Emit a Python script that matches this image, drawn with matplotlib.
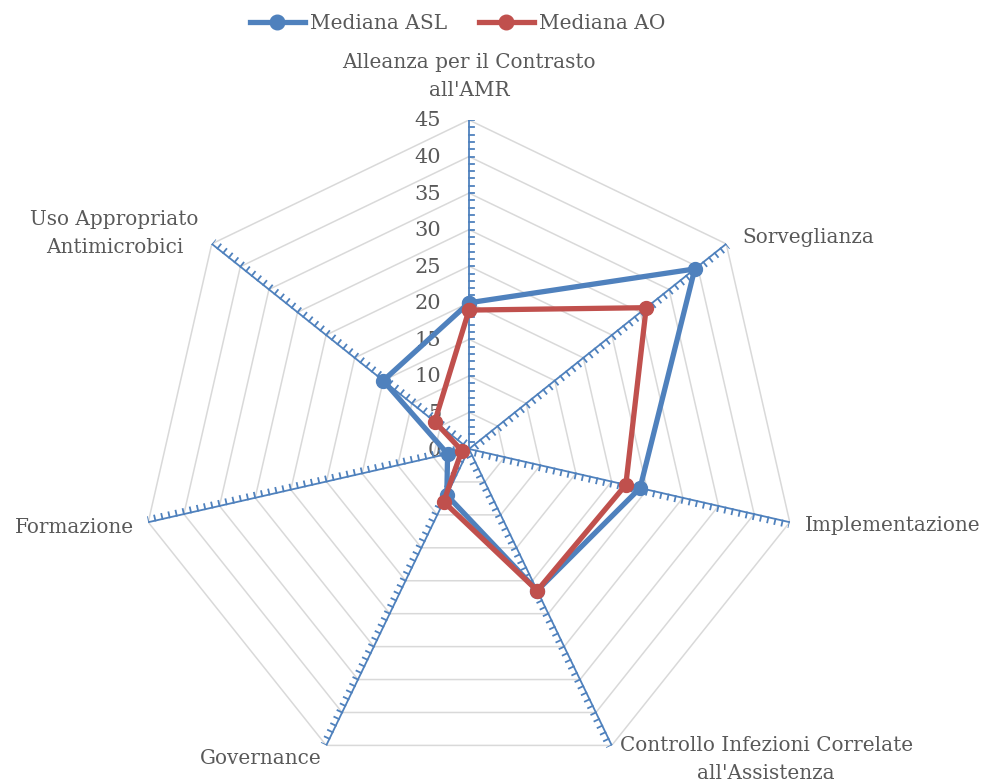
import numpy as np
import matplotlib.pyplot as plt
from matplotlib.lines import Line2D
from matplotlib.transforms import offset_copy

categories = ["Alleanza per il Contrasto\nall'AMR", "Sorveglianza", "Implementazione",
              "Controllo Infezioni Correlate\nall'Assistenza", "Governance", "Formazione",
              "Uso Appropriato\nAntimicrobici"]
mediana_asl = [20, 39.5, 24, 21.5, 7, 3, 15]
mediana_ao = [19, 31, 22, 21.5, 8, 1, 6]
r_ticks = [0, 5, 10, 15, 20, 25, 30, 35, 40, 45]
r_max = 45

BLUE = '#4F81BD'
RED = '#C0504D'
GRID = '#D9D9D9'
TEXT = '#595959'

plt.rcParams['font.family'] = ['DejaVu Serif']

fig = plt.figure(figsize=(9.85, 7.82), dpi=100)
ax = fig.add_axes([469 / 985 - 329 / 985, (782 - 449 - 329) / 782, 658 / 985, 658 / 782],
                  projection='polar')
ax.set_theta_zero_location('N')
ax.set_theta_direction(-1)
ax.set_ylim(0, r_max)
ax.grid(False)
ax.spines['polar'].set_visible(False)
ax.set_xticks([])
ax.set_yticks([])

n = len(categories)
theta = np.arange(n) * 2 * np.pi / n
theta_closed = np.append(theta, theta[0])

# heptagon grid
for r in r_ticks[1:]:
    ax.plot(theta_closed, [r] * (n + 1), color=GRID, lw=1.1, zorder=1)

# spokes with minor ticks on the clockwise side
tick_len = 0.7
for t in theta:
    ax.plot([t, t], [0, r_max], color=BLUE, lw=1.3, zorder=2)
    for r in range(1, r_max + 1):
        x0, y0 = r * np.sin(t), r * np.cos(t)
        x1, y1 = x0 + tick_len * np.cos(t), y0 - tick_len * np.sin(t)
        ax.plot([t, np.arctan2(x1, y1)], [r, np.hypot(x1, y1)], color=BLUE, lw=1.3, zorder=2)

# radial value labels
lab_tr = offset_copy(ax.transData, fig=fig, x=-28, y=-1, units='dots')
for r in r_ticks:
    ax.text(0, r, str(r), transform=lab_tr, ha='right', va='center',
            fontsize=15, color=TEXT, zorder=1)

# series
ax.plot(theta_closed, mediana_asl + mediana_asl[:1], color=BLUE, lw=3.8,
        marker='o', markersize=10, zorder=4, clip_on=False)
ax.plot(theta_closed, mediana_ao + mediana_ao[:1], color=RED, lw=3.8,
        marker='o', markersize=10, zorder=5, clip_on=False)

# category labels
label_pos = [(0, 44, 'center'), (16, 6, 'left'), (15, -3, 'left'), (8, -14, 'left'),
             (-5, -13, 'right'), (-14, -5, 'right'), (-13, 10, 'right')]
for t, name, (dx, dy, ha) in zip(theta, categories, label_pos):
    tr = offset_copy(ax.transData, fig=fig, x=dx, y=dy, units='dots')
    ax.text(t, r_max, name, transform=tr, ha=ha, va='center', multialignment='center',
            fontsize=14.4, color=TEXT, linespacing=1.6)

handles = [Line2D([], [], color=BLUE, lw=3.8, marker='o', markersize=10.5),
           Line2D([], [], color=RED, lw=3.8, marker='o', markersize=10.5)]
fig.legend(handles, ['Mediana ASL', 'Mediana AO'], loc='upper center',
           bbox_to_anchor=(0.4645, 1.005), ncol=2, frameon=False, fontsize=14.5,
           labelcolor=TEXT, handlelength=2.75, handletextpad=0.25, columnspacing=1.55)

fig.savefig('out.png', dpi=100, facecolor='white')
